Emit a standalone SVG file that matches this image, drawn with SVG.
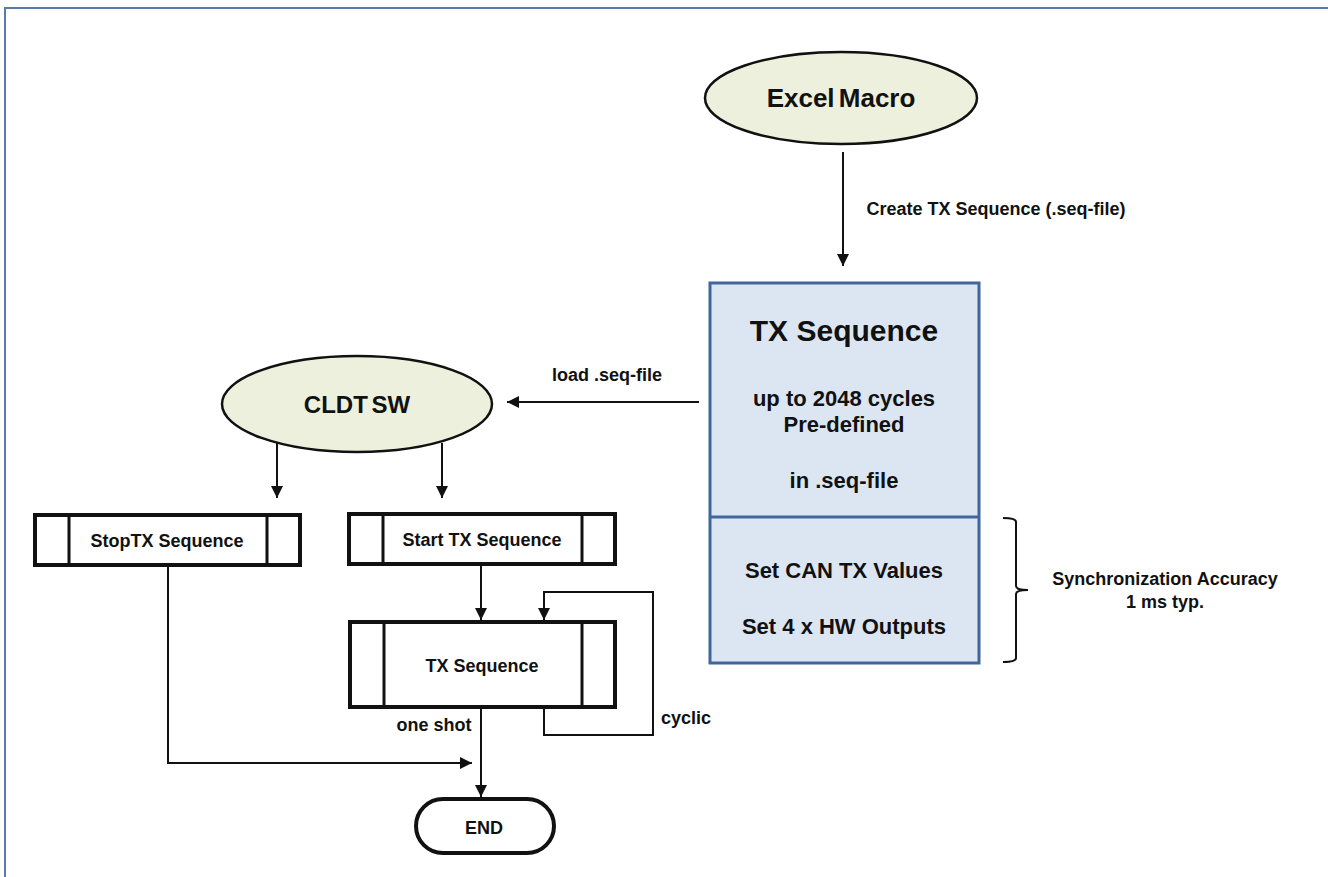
<svg xmlns="http://www.w3.org/2000/svg" width="1328" height="877" viewBox="0 0 1328 877">
<style>
text{font-family:"Liberation Sans",Arial,sans-serif;font-weight:bold;fill:#111;text-anchor:middle}
.ell{fill:#edf0dc;stroke:#111;stroke-width:2.5}
.proc{fill:#fff;stroke:#111;stroke-width:4}
.div{stroke:#111;stroke-width:3}
.conn{fill:none;stroke:#111;stroke-width:2}
.seq{fill:#dce6f2;stroke:#41669c;stroke-width:3}
.lbl{font-size:18px}
.box{font-size:22px}
</style>
<defs>
<marker id="ah" viewBox="0 0 10 10" refX="10" refY="5" markerWidth="6" markerHeight="6" orient="auto" markerUnits="strokeWidth">
<path d="M0,0 L10,5 L0,10 z" fill="#111"/>
</marker>
</defs>
<rect width="1328" height="877" fill="#fff"/>
<g id="frame">
<path d="M5,877 V8 H1328" fill="none" stroke="#5a7aa8" stroke-width="2"/>
</g>
<g id="excel-macro">
<ellipse class="ell" cx="841" cy="98" rx="136" ry="46"/>
<text x="841" y="107" font-size="26" word-spacing="-3">Excel Macro</text>
</g>
<g id="tx-sequence-block">
<rect class="seq" x="710" y="283" width="269" height="380"/>
<line x1="710" y1="517" x2="979" y2="517" stroke="#41669c" stroke-width="3"/>
<text x="844" y="341" font-size="30">TX Sequence</text>
<text class="box" x="844" y="406">up to 2048 cycles</text>
<text class="box" x="844" y="432">Pre-defined</text>
<text class="box" x="844" y="488">in .seq-file</text>
<text class="box" x="844" y="578">Set CAN TX Values</text>
<text class="box" x="844" y="634">Set 4 x HW Outputs</text>
</g>
<g id="sync-note">
<path d="M1003,518 Q1016,518 1016,522 V586 Q1016,590 1028,590 Q1016,590 1016,594 V658 Q1016,662 1003,662" fill="none" stroke="#111" stroke-width="2"/>
<text class="lbl" x="1165" y="585">Synchronization Accuracy</text>
<text class="lbl" x="1165" y="608">1 ms typ.</text>
</g>
<g id="cldt-sw">
<ellipse class="ell" cx="357" cy="404" rx="135" ry="48"/>
<text x="357" y="413" font-size="24" word-spacing="-3">CLDT SW</text>
</g>
<g id="stop-tx">
<rect class="proc" x="35" y="515" width="265" height="50"/>
<line class="div" x1="69" y1="515" x2="69" y2="565"/>
<line class="div" x1="267" y1="515" x2="267" y2="565"/>
<text class="lbl" x="167" y="547">StopTX Sequence</text>
</g>
<g id="start-tx">
<rect class="proc" x="349" y="514" width="266" height="50"/>
<line class="div" x1="383" y1="514" x2="383" y2="564"/>
<line class="div" x1="582" y1="514" x2="582" y2="564"/>
<text class="lbl" x="482" y="546">Start TX Sequence</text>
</g>
<g id="tx-sequence">
<rect class="proc" x="350" y="622" width="265" height="85"/>
<line class="div" x1="384" y1="622" x2="384" y2="707"/>
<line class="div" x1="582" y1="622" x2="582" y2="707"/>
<text class="lbl" x="482" y="672">TX Sequence</text>
</g>
<g id="end">
<rect class="proc" x="416" y="799" width="138" height="54" rx="27" stroke-width="3.5"/>
<text class="lbl" x="484" y="834">END</text>
</g>
<g id="connectors">
<line class="conn" x1="843" y1="152" x2="843" y2="266" marker-end="url(#ah)"/>
<text class="lbl" x="996" y="215">Create TX Sequence (.seq-file)</text>
<line class="conn" x1="699" y1="402" x2="507" y2="402" marker-end="url(#ah)"/>
<text class="lbl" x="607" y="381">load .seq-file</text>
<line class="conn" x1="277" y1="443" x2="277" y2="498" marker-end="url(#ah)"/>
<line class="conn" x1="442" y1="443" x2="442" y2="498" marker-end="url(#ah)"/>
<line class="conn" x1="481" y1="565" x2="481" y2="620" marker-end="url(#ah)"/>
<path class="conn" d="M544,707 V735 H653 V592 H544 V620" marker-end="url(#ah)"/>
<text class="lbl" x="686" y="724">cyclic</text>
<line class="conn" x1="481" y1="707" x2="481" y2="797" marker-end="url(#ah)"/>
<text class="lbl" x="434" y="731">one shot</text>
<path class="conn" d="M168,565 V763 H472" marker-end="url(#ah)"/>
</g>
</svg>
